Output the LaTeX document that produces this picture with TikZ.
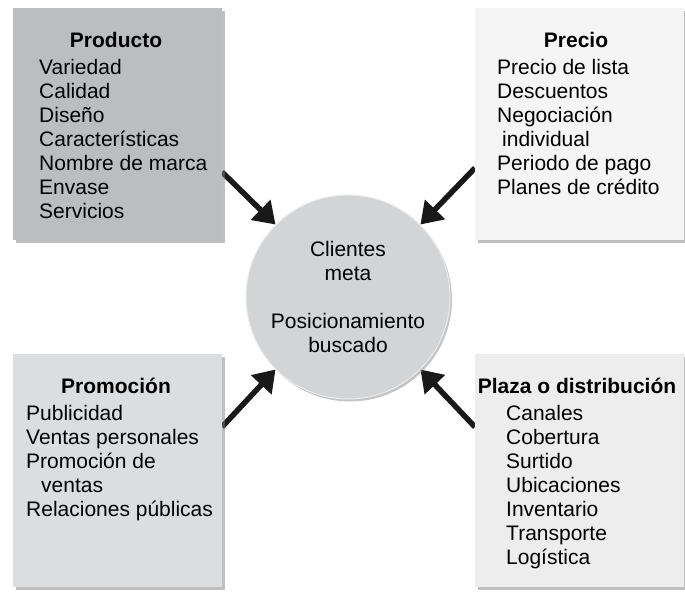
\documentclass[tikz,border=0pt]{standalone}
\usepackage{fontspec}
\setmainfont{Liberation Sans}
\usetikzlibrary{arrows.meta,shadows,backgrounds}
\definecolor{prodfill}{HTML}{BCBDC0}
\definecolor{preciofill}{HTML}{F5F5F5}
\definecolor{promofill}{HTML}{DCDDDF}
\definecolor{plazafill}{HTML}{EDEDEE}
\definecolor{metafill}{HTML}{D3D4D6}
\begin{document}
\begin{tikzpicture}[x=1pt,y=-1pt,
		mixbox/.style={rectangle,minimum width=209pt,minimum height=232pt,anchor=north west,inner sep=0pt,
			drop shadow={shadow xshift=2.5pt,shadow yshift=-2.5pt,fill=black!50}},
		heading/.style={font=\fontsize{21}{24}\selectfont\bfseries,anchor=base,inner sep=0pt},
		entry/.style={font=\fontsize{21}{24}\selectfont,anchor=base west,inner sep=0pt},
		pushes/.style={line width=5.5pt,black!90,-{Triangle[length=21pt,width=27pt]}}]
				\useasboundingbox (0,0) rectangle (685,592);
				\node[mixbox,fill=prodfill] (prod) at (13,8) {};
				\node[mixbox,fill=preciofill] (precio) at (475,8) {};
				\node[mixbox,fill=promofill,minimum height=233pt] (promo) at (13,354) {};
				\node[mixbox,fill=plazafill,minimum height=233pt] (plaza) at (475,354) {};
				\node[circle,minimum size=204pt,fill=metafill,draw=white!85!gray,line width=1pt,
					drop shadow={shadow xshift=2pt,shadow yshift=-2.5pt,fill=black!45},
					align=center,font=\fontsize{21}{24}\selectfont] (meta) at (348,297)
					{Clientes\\meta\\[24pt]Posicionamiento\\buscado};
				\node[heading] (prodtitle) at (116,47) {Producto};
				\node[heading] (preciotitle) at (576,47) {Precio};
				\node[heading] (promotitle) at (116,393) {Promoción};
				\node[heading] (plazatitle) at (577,393) {Plaza o distribución};
				\foreach \t [count=\i] in {Variedad,Calidad,Diseño,Características,Nombre de marca,Envase,Servicios}
					\node[entry] (prod\i) at (39,50+24*\i) {\t};
				\foreach \t [count=\i] in {Precio de lista,Descuentos,Negociación,{\hspace*{5pt}individual},Periodo de pago,Planes de crédito}
					\node[entry] (precio\i) at (497,50+24*\i) {\t};
				\foreach \t [count=\i] in {Publicidad,Ventas personales,Promoción de,{\hspace*{15pt}ventas},Relaciones públicas}
					\node[entry] (promo\i) at (26,396+24*\i) {\t};
				\foreach \t [count=\i] in {Canales,Cobertura,Surtido,Ubicaciones,Inventario,Transporte,Logística}
					\node[entry] (plaza\i) at (506,396+24*\i) {\t};
				\coordinate (prodout) at (222,172);
				\coordinate (precioout) at (475,168);
				\coordinate (promoout) at (222,427);
				\coordinate (plazaout) at (475,427);
				\begin{scope}[on background layer]
					\draw[pushes] (prodout) -- (meta.135);
					\draw[pushes] (precioout) -- (meta.45);
					\draw[pushes] (promoout) -- (meta.225);
					\draw[pushes] (plazaout) -- (meta.315);
				\end{scope}
			\end{tikzpicture}
\end{document}
